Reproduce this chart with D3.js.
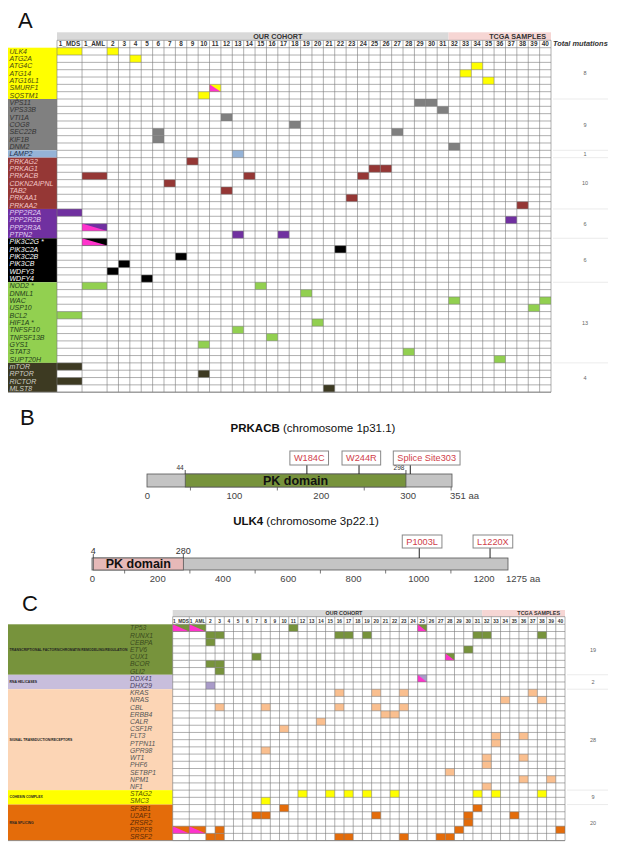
<!DOCTYPE html>
<html><head><meta charset="utf-8">
<script src="https://cdn.jsdelivr.net/npm/d3@7"></script>
<style>body{margin:0;background:#fff} svg{display:block} text{font-family:"Liberation Sans",Arial,sans-serif}</style>
</head><body><svg id="c" width="618" height="858"></svg>
<script>
// ---------------- DATA ----------------
const sampleColumns = ["1_MDS","1_AML","2","3","4","5","6","7","8","9","10","11","12","13","14","15","16","17","18","19","20",
  "21","22","23","24","25","26","27","28","29","30","31","32","33","34","35","36","37","38","39","40"];
const cohortLast = "31";           // columns 1_MDS..31 = OUR COHORT, 32..40 = TCGA SAMPLES

// Panel A
const aGenes = ["ULK4","ATG2A","ATG4C","ATG14","ATG16L1","SMURF1","SQSTM1",
  "VPS11","VPS33B","VTI1A","COG8","SEC22B","KIF1B","DNM2",
  "LAMP2",
  "PRKAG2","PRKAG1","PRKACB","CDKN2AIPNL","TAB2","PRKAA1","PRKAA2",
  "PPP2R2A","PPP2R2B","PPP2R3A","PTPN2",
  "PIK3C2G *","PIK3C2A","PIK3C2B","PIK3CB","WDFY3","WDFY4",
  "NOD2 *","DNML1","WAC","USP10","BCL2","HIF1A *","TNFSF10","TNFSF13B","GYS1","STAT3","SUPT20H",
  "mTOR","RPTOR","RICTOR","MLST8"];
const aGroupSizes = [7,7,1,7,4,6,11,4];
const aGroupTotals = [8,9,1,10,6,6,13,4];
// [gene, sample, split-with-pink]
const aMutations = [
  ["ULK4","1_MDS"],["ULK4","2"],["ATG2A","4"],["ATG4C","34"],["ATG14","33"],["ATG16L1","35"],["SMURF1","11",1],["SQSTM1","10"],
  ["VPS11","29"],["VPS11","30"],["VPS33B","31"],["VTI1A","12"],["COG8","18"],["SEC22B","6"],["SEC22B","27"],["KIF1B","6"],["DNM2","32"],
  ["LAMP2","13"],
  ["PRKAG2","9"],["PRKAG1","25"],["PRKAG1","26"],["PRKACB","1_AML"],["PRKACB","14"],["PRKACB","24"],["CDKN2AIPNL","7"],["TAB2","12"],["PRKAA1","23"],["PRKAA2","38"],
  ["PPP2R2A","1_MDS"],["PPP2R2B","37"],["PPP2R3A","1_AML",1],["PTPN2","13"],["PTPN2","17"],
  ["PIK3C2G *","1_AML",1],["PIK3C2A","22"],["PIK3C2B","8"],["PIK3CB","3"],["WDFY3","2"],["WDFY4","5"],
  ["NOD2 *","1_AML"],["NOD2 *","15"],["DNML1","19"],["WAC","32"],["WAC","40"],["USP10","39"],["BCL2","1_MDS"],["HIF1A *","20"],
  ["TNFSF10","13"],["TNFSF13B","16"],["GYS1","10"],["STAT3","28"],["SUPT20H","36"],
  ["mTOR","1_MDS"],["RPTOR","10"],["RICTOR","1_MDS"],["MLST8","21"]
];

// Panel B
const prkacbLength = 351, prkacbDomain = [44, 298];
const prkacbTicks = [0, 100, 200, 300];
const prkacbMutLabels = ["W184C","W244R","Splice Site303"];
const prkacbMutPos = [184, 244, 303];
const ulk4Length = 1275, ulk4Domain = [4, 280];
const ulk4Ticks = [0, 200, 400, 600, 800, 1000, 1200];
const ulk4MutLabels = ["P1003L","L1220X"];
const ulk4MutPos = [1003, 1220];

// Panel C
const cGenes = ["TP53","RUNX1","CEBPA","ETV6","CUX1","BCOR","GLI2",
  "DDX41","DHX29",
  "KRAS","NRAS","CBL","ERBB4","CALR","CSF1R","FLT3","PTPN11","GPR98","WT1","PHF6","SETBP1","NPM1","NF1",
  "STAG2","SMC3",
  "SF3B1","U2AF1","ZRSR2","PRPF8","SRSF2"];
const cGroupNames = ["TRANSCRIPTIONAL FACTORS/CHROMATIN REMODELING/REGULATION","RNA HELICASES","SIGNAL TRANSDUCTION/RECEPTORS","COHESIN COMPLEX","RNA SPLICING"];
const cGroupSizes = [7,2,14,2,5];
const cGroupTotals = [19,2,28,9,20];
const cMutations = [
  ["TP53","1_MDS",1],["TP53","1_AML",1],["TP53","11"],["TP53","25",1],
  ["RUNX1","2"],["RUNX1","3"],["RUNX1","16"],["RUNX1","17"],["RUNX1","19"],["RUNX1","31"],["RUNX1","32"],["RUNX1","38"],
  ["CEBPA","2"],["ETV6","30"],["CUX1","7"],["CUX1","28",1],["BCOR","2"],["BCOR","3"],["GLI2","3"],
  ["DDX41","25",1],["DHX29","2"],
  ["KRAS","16"],["KRAS","20"],["KRAS","23"],["KRAS","37"],["NRAS","34"],["NRAS","38"],
  ["CBL","3"],["CBL","8"],["CBL","16"],["CBL","20"],["CBL","23"],["ERBB4","21"],["ERBB4","22"],["CALR","14"],["CSF1R","10"],
  ["FLT3","33"],["FLT3","36"],["PTPN11","33"],["GPR98","8"],["WT1","32"],["WT1","36"],["PHF6","32"],["SETBP1","28"],
  ["NPM1","36"],["NPM1","39"],["NF1","32"],
  ["STAG2","12"],["STAG2","15"],["STAG2","17"],["STAG2","19"],["STAG2","22"],["STAG2","31"],["STAG2","33"],["STAG2","38"],["SMC3","8"],
  ["SF3B1","10"],["SF3B1","31"],["U2AF1","7"],["U2AF1","8"],["U2AF1","20"],["U2AF1","30"],["U2AF1","35"],["ZRSR2","30"],
  ["PRPF8","1_MDS",1],["PRPF8","1_AML",1],["PRPF8","3"],["PRPF8","29"],["PRPF8","40"],
  ["SRSF2","2"],["SRSF2","3"],["SRSF2","16"],["SRSF2","17"],["SRSF2","23"],["SRSF2","27"],["SRSF2","28"]
];

// ---------------- STYLE ----------------
const PINK = "#ff33cc";
const aFill = ["#ffff00","#808080","#95b3d7","#953735","#7030a0","#000000","#92d050","#3d3a22"];
const aMark = ["#ffff00","#808080","#95b3d7","#953735","#7030a0","#000000","#92d050","#3d3a22"];
const aText = ["#4a4a10","#333333","#1f2f4a","#f4c6c6","#e4d2f4","#ffffff","#24401a","#d0d0c8"];
const cFill = ["#77933c","#c8bedc","#fcd5b5","#ffff00","#e46c0a"];
const cMark = ["#77933c","#a99bc9","#fabf8f","#ffff00","#e46c0a"];
const cText = ["#3a4a1c","#4a4060","#555555","#555500","#5a2a08"];

const svg = d3.select("#c");

function colScale(cols, wide, x0, x1) {
  const w = cols.map(c => c.startsWith("1_") ? wide : 1);
  const cum = d3.cumsum([0, ...w]);
  const s = d3.scaleLinear().domain([0, cum[cum.length - 1]]).range([x0, x1]);
  const idx = new Map(cols.map((c, i) => [c, i]));
  return {
    x: c => s(cum[idx.get(c)]),
    w: c => s(cum[idx.get(c) + 1]) - s(cum[idx.get(c)]),
    edges: Array.from(cum, v => s(v))
  };
}

function groupIndex(sizes) {
  const out = [];
  sizes.forEach((n, gi) => { for (let k = 0; k < n; k++) out.push(gi); });
  return out;
}

function drawMatrix(cfg) {
  const g = svg.append("g");
  const cs = colScale(sampleColumns, cfg.wide, cfg.x0, cfg.x1);
  const ys = d3.scaleBand().domain(cfg.genes).range([cfg.y0, cfg.y1]);
  const rh = ys.bandwidth();
  const gi = groupIndex(cfg.sizes);
  const geneGroup = new Map(cfg.genes.map((d, i) => [d, gi[i]]));

  // header bands
  const xSplit = cs.x(cohortLast) + cs.w(cohortLast);
  g.append("rect").attr("x", cfg.x0).attr("y", cfg.bandY).attr("width", xSplit - cfg.x0).attr("height", cfg.bandH).attr("fill", "#d9d9d9");
  g.append("rect").attr("x", xSplit).attr("y", cfg.bandY).attr("width", cfg.x1 - xSplit).attr("height", cfg.bandH).attr("fill", "#f6d6d4");
  const midStart = cs.x("2"), midEnd = xSplit;
  g.append("text").attr("x", (midStart + midEnd) / 2).attr("y", cfg.bandY + cfg.bandH - 1.6)
    .attr("text-anchor", "middle").attr("font-size", cfg.bandFont).attr("font-weight", "bold").attr("fill", "#333").text("OUR COHORT");
  g.append("text").attr("x", cfg.x1 - 5).attr("y", cfg.bandY + cfg.bandH - 1.6)
    .attr("text-anchor", "end").attr("font-size", cfg.bandFont).attr("font-weight", "bold").attr("fill", "#333").text("TCGA SAMPLES");

  // column labels
  g.selectAll(".cl").data(sampleColumns).join("text")
    .attr("x", d => cs.x(d) + cs.w(d) / 2).attr("y", cfg.y0 - 1.6)
    .attr("text-anchor", "middle").attr("font-size", cfg.numFont).attr("font-weight", "bold").attr("fill", "#333").text(d => d);

  // label blocks
  let start = 0;
  cfg.sizes.forEach((n, k) => {
    const yA = ys(cfg.genes[start]), yB = ys(cfg.genes[start + n - 1]) + rh;
    g.append("rect").attr("x", cfg.lx0).attr("y", yA).attr("width", cfg.lx1 - cfg.lx0).attr("height", yB - yA).attr("fill", cfg.fill[k]);
    if (cfg.groupNames) {
      g.append("text").attr("x", cfg.lx0 + 1.5).attr("y", (yA + yB) / 2 + 1).attr("font-size", 3.4).attr("font-weight", "bold")
        .attr("fill", "#222").text(cfg.groupNames[k]);
    }
    // totals
    g.append("text").attr("x", cfg.totX).attr("y", (yA + yB) / 2 + 2).attr("text-anchor", "middle")
      .attr("font-size", 5.5).attr("fill", "#666").text(cfg.totals[k]);
    if (k > 0) {
      g.append("line").attr("x1", cfg.x1 + 2).attr("x2", 608).attr("y1", yA).attr("y2", yA).attr("stroke", "#e6e6e6").attr("stroke-width", 0.8);
    }
    start += n;
  });
  g.selectAll(".gl").data(cfg.genes).join("text")
    .attr("x", cfg.textX).attr("y", d => ys(d) + rh / 2 + 2.4)
    .attr("font-size", cfg.geneFont).attr("font-style", "italic").attr("fill", d => cfg.text[geneGroup.get(d)]).text(d => d);

  // marks
  cfg.muts.forEach(([gene, col, split]) => {
    const x = cs.x(col), w = cs.w(col), y = ys(gene), k = geneGroup.get(gene);
    g.append("rect").attr("x", x).attr("y", y).attr("width", w).attr("height", rh).attr("fill", cfg.mark[k]);
    if (split) {
      g.append("path").attr("d", `M${x},${y}L${x},${y + rh}L${x + w},${y + rh}Z`).attr("fill", PINK);
    }
  });

  // grid
  const gy0 = cfg.bandY + cfg.bandH;
  cs.edges.forEach(x => g.append("line").attr("x1", x).attr("x2", x).attr("y1", gy0).attr("y2", cfg.y1)
    .attr("stroke", "#7a7a7a").attr("stroke-width", 0.6));
  [gy0, ...cfg.genes.map(d => ys(d)), cfg.y1].forEach(y => g.append("line").attr("x1", cfg.x0).attr("x2", cfg.x1)
    .attr("y1", y).attr("y2", y).attr("stroke", "#7a7a7a").attr("stroke-width", 0.6));
  g.append("line").attr("x1", cfg.lx0).attr("x2", cfg.x1).attr("y1", cfg.y1).attr("y2", cfg.y1).attr("stroke", "#888").attr("stroke-width", 0.9);
  return g;
}

// Panel letters
[["A", 18, 28], ["B", 20, 425], ["C", 22, 611]].forEach(([t, x, y]) =>
  svg.append("text").attr("x", x).attr("y", y).attr("font-size", 22).attr("fill", "#111").text(t));

// Panel A
drawMatrix({
  genes: aGenes, sizes: aGroupSizes, totals: aGroupTotals, muts: aMutations,
  fill: aFill, mark: aMark, text: aText,
  wide: 2.2, x0: 57, x1: 551, y0: 47.7, y1: 392.2, bandY: 32.3, bandH: 8,
  lx0: 8, lx1: 57, textX: 9.5, totX: 585, bandFont: 7.2, numFont: 6.4, geneFont: 7
});
svg.append("text").attr("x", 553).attr("y", 46).attr("font-size", 7.4).attr("font-style", "italic")
  .attr("font-weight", "bold").attr("fill", "#333").text("Total mutations");

// Panel C
drawMatrix({
  genes: cGenes, sizes: cGroupSizes, totals: cGroupTotals, muts: cMutations, groupNames: cGroupNames,
  fill: cFill, mark: cMark, text: cText,
  wide: 1.8, x0: 172.7, x1: 565, y0: 624.3, y1: 840.6, bandY: 610, bandH: 6.7,
  lx0: 8, lx1: 172.7, textX: 130, totX: 593, bandFont: 5.4, numFont: 4.8, geneFont: 6.8
});

// Panel B
function drawProtein(cfg) {
  const g = svg.append("g");
  const x = d3.scaleLinear().domain([0, cfg.length]).range([cfg.xa, cfg.xb]);
  // title
  const t = g.append("text").attr("x", cfg.titleX).attr("y", cfg.titleY).attr("text-anchor", "middle").attr("font-size", 11.5).attr("fill", "#111");
  t.append("tspan").attr("font-weight", "bold").text(cfg.name);
  t.append("tspan").text(" (chromosome  " + cfg.chrom + ")");
  // bar
  g.append("rect").attr("x", x(0)).attr("y", cfg.barY).attr("width", x(cfg.length) - x(0)).attr("height", cfg.barH)
    .attr("fill", "#c4c4c4").attr("stroke", "#555").attr("stroke-width", 0.8);
  g.append("rect").attr("x", x(cfg.domain[0])).attr("y", cfg.barY).attr("width", x(cfg.domain[1]) - x(cfg.domain[0])).attr("height", cfg.barH)
    .attr("fill", cfg.domainColor).attr("stroke", "#555").attr("stroke-width", 0.8);
  g.append("text").attr("x", (x(cfg.domain[0]) + x(cfg.domain[1])) / 2).attr("y", cfg.barY + cfg.barH / 2 + 4.3)
    .attr("text-anchor", "middle").attr("font-size", 12.5).attr("font-weight", "bold").attr("fill", "#111").text("PK domain");
  // domain boundary labels
  cfg.domain.forEach(v => {
    g.append("line").attr("x1", x(v)).attr("x2", x(v)).attr("y1", cfg.barY - 4).attr("y2", cfg.barY).attr("stroke", "#333").attr("stroke-width", 0.8);
    g.append("text").attr("x", x(v) + cfg.bdx).attr("y", cfg.barY - 4.5).attr("text-anchor", cfg.bAnchor)
      .attr("font-size", cfg.bFont).attr("fill", "#333").text(v);
  });
  // axis
  const axis = d3.axisBottom(x).tickValues(cfg.ticks).tickFormat(d3.format("d")).tickSize(0).tickPadding(cfg.tickPad);
  const ag = g.append("g").attr("transform", `translate(0,${cfg.barY + cfg.barH})`).call(axis);
  ag.select(".domain").remove();
  ag.selectAll("text").attr("font-size", 9.5).attr("fill", "#444").attr("font-family", "Liberation Sans, Arial, sans-serif");
  const step = cfg.ticks[1] - cfg.ticks[0];
  const minor = d3.range(step / 2, cfg.length, step);
  g.selectAll(".mt").data(minor).join("line").attr("x1", d => x(d)).attr("x2", d => x(d))
    .attr("y1", cfg.barY + cfg.barH).attr("y2", cfg.barY + cfg.barH + 3.5).attr("stroke", "#555").attr("stroke-width", 0.8);
  g.append("text").attr("x", x(cfg.length) - 2).attr("y", cfg.barY + cfg.barH + cfg.tickPad + 6.8).attr("font-size", 9.5).attr("fill", "#444").text(cfg.length + " aa");
  // mutations
  cfg.mutLabels.forEach((lab, i) => {
    const mx = x(cfg.mutPos[i]);
    g.append("line").attr("x1", mx).attr("x2", mx).attr("y1", cfg.boxY + cfg.boxH).attr("y2", cfg.barY).attr("stroke", "#222").attr("stroke-width", 1);
    const tx = g.append("text").attr("x", mx - 17 + 4).attr("y", cfg.boxY + cfg.boxH / 2 + 3.3).attr("font-size", 9.2).attr("fill", "#d0404a").text(lab);
    const w = tx.node().getComputedTextLength() + 8;
    g.insert("rect", () => tx.node()).attr("x", mx - 17).attr("y", cfg.boxY).attr("width", w).attr("height", cfg.boxH)
      .attr("fill", "#fff").attr("stroke", "#888").attr("stroke-width", 1);
  });
}

drawProtein({
  name: "PRKACB", chrom: "1p31.1", titleX: 313, titleY: 432, length: prkacbLength, domain: prkacbDomain,
  ticks: prkacbTicks, mutLabels: prkacbMutLabels, mutPos: prkacbMutPos,
  xa: 147, xb: 452, barY: 474, barH: 13, domainColor: "#77933c",
  bdx: -1.5, bAnchor: "end", bFont: 6.5, tickPad: 5, boxY: 451, boxH: 14
});
drawProtein({
  name: "ULK4", chrom: "3p22.1", titleX: 306, titleY: 525, length: ulk4Length, domain: ulk4Domain,
  ticks: ulk4Ticks, mutLabels: ulk4MutLabels, mutPos: ulk4MutPos,
  xa: 92, xb: 508, barY: 558, barH: 12, domainColor: "#e6b9b8",
  bdx: 0, bAnchor: "middle", bFont: 9, tickPad: 5, boxY: 535, boxH: 13
});
</script>
</body></html>
